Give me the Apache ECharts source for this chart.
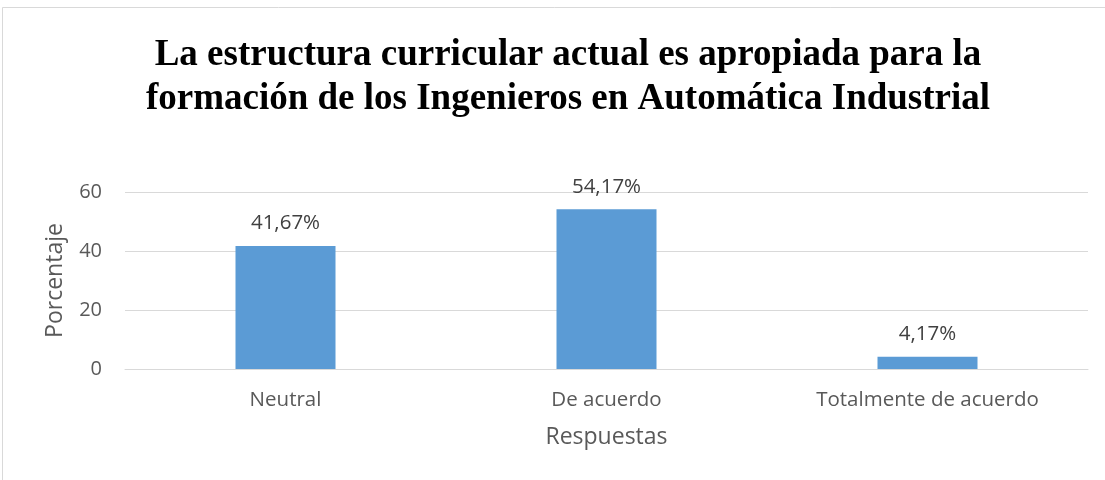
<!DOCTYPE html>
<html><head><meta charset="utf-8">
<script src="https://cdn.jsdelivr.net/npm/echarts@6/dist/echarts.min.js"></script>
<style>html,body{margin:0;padding:0;background:#fff}#c{width:1105px;height:480px}</style>
</head><body><div id="c"></div>
<script>
const titleLines = ['La estructura curricular actual es apropiada para la', 'formación de los Ingenieros en Automática Industrial'];
const categories = ['Neutral', 'De acuerdo', 'Totalmente de acuerdo'];
const values = [41.67, 54.17, 4.17];
const yTicks = [0, 20, 40, 60];
const xName = 'Respuestas';
const yName = 'Porcentaje';

const chart = echarts.init(document.getElementById('c'));
chart.setOption({
  animation: false,
  backgroundColor: '#fff',
  graphic: [{type:'rect', shape:{x:2.5, y:7.5, width:1200, height:600}, style:{fill:'none', stroke:'#d9d9d9', lineWidth:1}, silent:true}],
  title: {
    text: titleLines.join('\n'), left: 563, top: 28, textAlign: 'center',
    textStyle: {fontFamily: 'Liberation Serif', fontWeight: 'bold', fontSize: 37, lineHeight: 44, color: '#000'}
  },
  grid: {left: 125, right: 17, top: 192, bottom: 111},
  xAxis: {
    type: 'category', data: categories,
    name: xName, nameLocation: 'middle', nameGap: 57,
    nameTextStyle: {fontFamily: 'Open Sans', fontSize: 23, color: '#595959'},
    axisLine: {lineStyle: {color: '#d9d9d9'}}, axisTick: {show: false},
    axisLabel: {fontFamily: 'Open Sans', fontSize: 20.5, color: '#595959', margin: 21}
  },
  yAxis: {
    type: 'value', min: 0, max: 60, interval: 20,
    name: yName, nameLocation: 'middle', nameGap: 58, nameRotate: 90,
    nameTextStyle: {fontFamily: 'Open Sans', fontSize: 23, color: '#595959'},
    axisLine: {show: false}, axisTick: {show: false},
    axisLabel: {fontFamily: 'Open Sans', fontSize: 20, color: '#595959', margin: 23,
      formatter: v => yTicks.includes(v) ? String(v) : ''},
    splitLine: {lineStyle: {color: '#d9d9d9', width: 1}}
  },
  series: [{
    type: 'bar', data: values, barWidth: 100, itemStyle: {color: '#5B9BD5'},
    label: {show: true, position: 'top', distance: 12, fontFamily: 'Open Sans', fontSize: 20.5, color: '#404040',
      formatter: p => p.value.toFixed(2).replace('.', ',') + '%'}
  }]
});
</script></body></html>
